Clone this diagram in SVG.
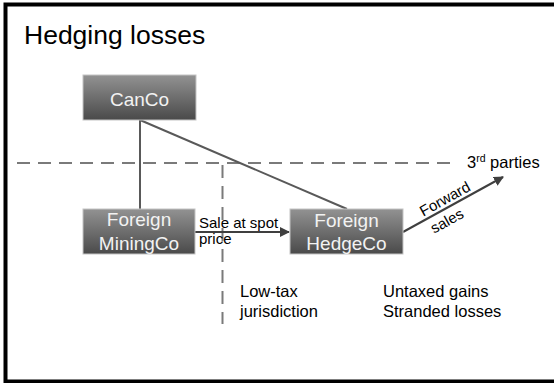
<svg xmlns="http://www.w3.org/2000/svg" width="554" height="383" viewBox="0 0 554 383">
  <defs>
    <linearGradient id="boxFill" x1="0" y1="0" x2="0" y2="1">
      <stop offset="0" stop-color="#929292"/>
      <stop offset="1" stop-color="#4a4a4a"/>
    </linearGradient>
    <marker id="arrow" viewBox="0 0 10 10" refX="9" refY="5" markerWidth="5" markerHeight="5" orient="auto" markerUnits="strokeWidth">
      <path d="M0,0 L10,5 L0,10 z" fill="#3f3f3f"/>
    </marker>
  </defs>
  <style>
    text { font-family: "Liberation Sans", Arial, sans-serif; }
    .box { fill: url(#boxFill); stroke: #c4c4c4; stroke-width: 1; }
    .boxText { fill: #f2f2f2; font-size: 19px; text-anchor: middle; }
    .link { stroke: #595959; stroke-width: 2; fill: none; }
    .arrowLink { stroke: #3f3f3f; stroke-width: 2; fill: none; marker-end: url(#arrow); }
    .dash { stroke: #7a7a7a; stroke-width: 2; stroke-dasharray: 13 8; fill: none; }
    .label { fill: #000; font-size: 16.5px; }
    .small { fill: #000; font-size: 15px; }
  </style>

  <rect width="554" height="383" fill="#ffffff"/>
  <!-- slide frame (open on the right) -->
  <path d="M556 4.5 H5.5 V381.5 H556" fill="none" stroke="#000" stroke-width="4"/>

  <text x="24" y="44" font-size="26.5" fill="#000">Hedging losses</text>

  <!-- boundary lines -->
  <g id="boundaries">
    <line class="dash" x1="17" y1="163" x2="450" y2="163"/>
    <line class="dash" x1="222.5" y1="165" x2="222.5" y2="324"/>
  </g>

  <!-- connectors -->
  <g id="connectors">
    <line class="link" x1="140" y1="120" x2="140" y2="209"/>
    <line class="link" x1="140" y1="120" x2="347" y2="209"/>
    <line class="arrowLink" x1="195" y1="232" x2="289" y2="232"/>
    <line class="arrowLink" x1="403" y1="232" x2="503" y2="177"/>
    <text class="small" x="199" y="227.5">Sale at spot</text>
    <text class="small" x="199" y="244">price</text>
    <text class="small" text-anchor="middle" transform="translate(445 199) rotate(-29)" y="5">Forward</text>
    <text class="small" text-anchor="middle" transform="translate(447 221) rotate(-29)" y="5">sales</text>
  </g>

  <g id="canco">
    <rect class="box" x="83" y="75" width="113" height="45"/>
    <text class="boxText" x="139.5" y="106" font-size="20">CanCo</text>
  </g>

  <g id="foreign-miningco">
    <rect class="box" x="83" y="209" width="112" height="45"/>
    <text class="boxText" x="139" y="226">Foreign</text>
    <text class="boxText" x="139" y="250">MiningCo</text>
  </g>

  <g id="foreign-hedgeco">
    <rect class="box" x="290" y="209" width="113" height="45"/>
    <text class="boxText" x="346.5" y="227">Foreign</text>
    <text class="boxText" x="346.5" y="250">HedgeCo</text>
  </g>

  <g id="third-parties">
    <text class="label" x="467" y="168">3<tspan font-size="10.5" dy="-6">rd</tspan><tspan dy="6"> parties</tspan></text>
  </g>

  <g id="notes">
    <text class="label" x="240" y="297">Low-tax</text>
    <text class="label" x="240" y="317">jurisdiction</text>
    <text class="label" x="383" y="297">Untaxed gains</text>
    <text class="label" x="383" y="317">Stranded losses</text>
  </g>
</svg>
